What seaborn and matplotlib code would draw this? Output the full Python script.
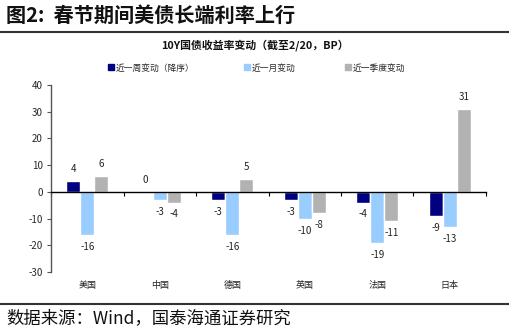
import matplotlib
matplotlib.use("Agg")
import matplotlib.pyplot as plt
import matplotlib.transforms as mtransforms
from matplotlib.lines import Line2D
import seaborn as sns
import pandas as pd

countries = ["美国", "中国", "德国", "英国", "法国", "日本"]
series_names = ["近一周变动（降序）", "近一月变动", "近一季度变动"]
week = [4, 0, -3, -3, -4, -9]
month = [-16, -3, -16, -10, -19, -13]
quarter = [6, -4, 5, -8, -11, 31]
colors = ["#000080", "#99CCFF", "#B2B2B2"]

sns.set_theme(style="white")
plt.rcParams["font.family"] = ["Noto Sans CJK SC", "DejaVu Sans"]
plt.rcParams["axes.unicode_minus"] = False

rows = []
for name, vals in zip(series_names, [week, month, quarter]):
    for c, v in zip(countries, vals):
        rows.append({"country": c, "series": name, "value": v})
df = pd.DataFrame(rows)

fig = plt.figure(figsize=(5.10, 3.29), dpi=100)
ax = fig.add_axes([51 / 510, 1 - 272 / 329, 435 / 510, (272 - 85) / 329])

sns.barplot(data=df, x="country", y="value", hue="series", order=countries,
            hue_order=series_names, palette=colors, width=0.58, saturation=1,
            ax=ax, legend=False)

ax.set_ylim(-30, 40)
ax.set_yticks(range(-30, 41, 10))
ax.set_xlim(-0.5, 5.5)
ax.set_xlabel("")
ax.set_ylabel("")

for s in ["top", "right"]:
    ax.spines[s].set_visible(False)
ax.spines["left"].set_color("#555555")
ax.spines["left"].set_linewidth(1.0)
ax.spines["bottom"].set_position(("data", 0))
ax.spines["bottom"].set_color("black")
ax.spines["bottom"].set_linewidth(1.0)

ax.tick_params(axis="y", which="major", left=True, length=3, width=0.8,
               color="#555555", labelsize=7, pad=3)
ax.set_xticks([i + 0.5 for i in range(-1, 6)], minor=True)
ax.set_xticks(range(len(countries)))
ax.set_xticklabels([])
ax.tick_params(axis="x", which="major", length=0)
ax.tick_params(axis="x", which="minor", bottom=True, length=3, width=0.8,
               color="black", direction="out")

trans = mtransforms.blended_transform_factory(ax.transData, ax.transAxes)
for i, c in enumerate(countries):
    ax.text(i, -0.07, c, transform=trans, ha="center", va="center",
            fontsize=6.5, color="#222222")

# data labels
for cont in ax.containers:
    labels = []
    for bar in cont:
        h = bar.get_height()
        labels.append(f"{h:.0f}")
    ax.bar_label(cont, labels=labels, padding=5, fontsize=7, color="#222222")

handles = [Line2D([0], [0], marker="s", linestyle="", markersize=4,
                  markerfacecolor=col, markeredgecolor=col) for col in colors]
fig.legend(handles, series_names, loc="center", bbox_to_anchor=(0.503, 1 - 68 / 329),
           ncol=3, frameon=False, fontsize=6.3, handletextpad=0.15,
           columnspacing=5.6, handlelength=0.8)

fig.text(0.012, 1 - 15 / 329, "图2:  春节期间美债长端利率上行", fontsize=14.5,
         fontweight="bold", ha="left", va="center", color="#111111")
fig.add_artist(Line2D([0.0, 1.0], [1 - 32 / 329, 1 - 32 / 329], color="#333333",
                      linewidth=1.5, transform=fig.transFigure))
fig.text(0.5, 1 - 45 / 329, "10Y国债收益率变动（截至2/20，BP）", fontsize=7.8,
         fontweight="bold", ha="center", va="center", color="#111111")
fig.add_artist(Line2D([0.0, 1.0], [1 - 304 / 329, 1 - 304 / 329], color="#333333",
                      linewidth=1.5, transform=fig.transFigure))
fig.text(0.012, 1 - 318 / 329, "数据来源：Wind，国泰海通证券研究", fontsize=12.5,
         ha="left", va="center", color="#111111")

fig.savefig("out.png", dpi=100)
